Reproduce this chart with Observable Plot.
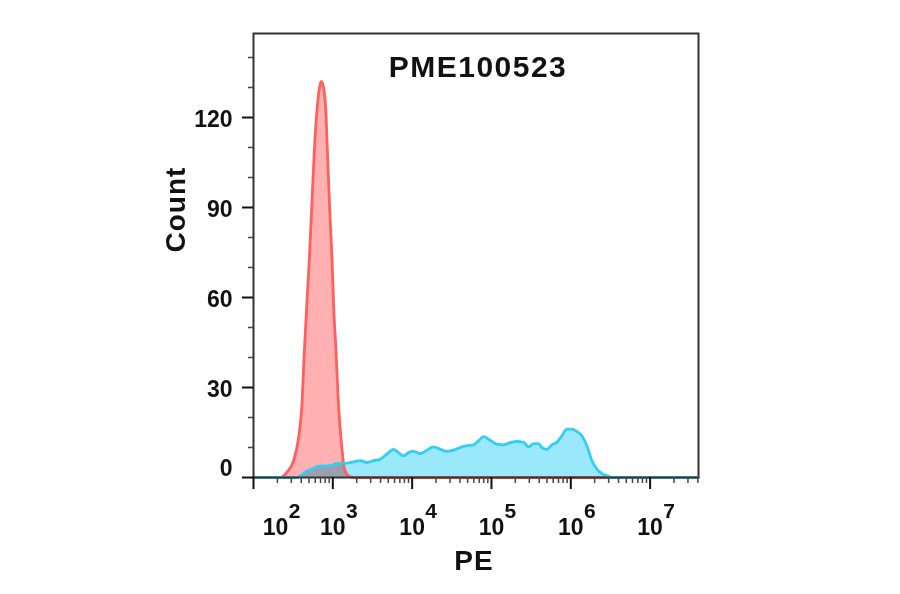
<!DOCTYPE html>
<html>
<head>
<meta charset="utf-8">
<script src="https://cdn.jsdelivr.net/npm/d3@7"></script>
<script src="https://cdn.jsdelivr.net/npm/@observablehq/plot@0.6"></script>
<style>
  html, body { margin: 0; padding: 0; background: #fff; }
  #chart { width: 900px; height: 594px; }
</style>
</head>
<body>
<div id="chart"></div>
<script>
// ---- data (x as log10 of PE intensity, y as event count) ----
const title = "PME100523";
const xLabel = "PE";
const yLabel = "Count";

const redLogPE = [2.0, 2.336, 2.420, 2.504, 2.567, 2.610, 2.639, 2.673, 2.706, 2.736, 2.765, 2.799, 2.832, 2.853,
  2.883, 2.912, 2.933, 2.958, 2.988, 3.009, 3.042, 3.072, 3.114, 3.143, 3.198, 3.261, 6.52];
const redCount = [0, 0, 1.7, 5.5, 13, 24, 41, 58, 74, 91, 108, 122, 130, 132,
  130, 122, 108, 91, 74, 58, 41, 24, 10, 3.3, 0.5, 0, 0];

const cyanLogPE = [2.0, 2.546, 2.609, 2.673, 2.736, 2.799, 2.862, 2.925, 2.988, 3.051, 3.114, 3.177, 3.261, 3.345,
  3.429, 3.513, 3.597, 3.681, 3.765, 3.828, 3.892, 3.955, 4.018, 4.102, 4.186, 4.270, 4.354, 4.438,
  4.522, 4.606, 4.690, 4.774, 4.837, 4.900, 4.984, 5.069, 5.153, 5.237, 5.321, 5.405, 5.468, 5.531,
  5.594, 5.636, 5.699, 5.762, 5.825, 5.888, 5.951, 6.014, 6.077, 6.140, 6.203, 6.266, 6.330, 6.393,
  6.456, 6.519, 7.61];
const cyanCount = [0, 0, 0.9, 2.2, 2.8, 3.6, 3.9, 3.9, 4.1, 4.7, 4.7, 4.8, 5.2, 5.6,
  5.0, 5.6, 6.1, 7.8, 9.4, 8.3, 7.2, 8.3, 8.7, 8.0, 9.1, 10.2, 9.4, 8.7,
  9.1, 10.0, 10.6, 10.9, 12.2, 13.6, 12.4, 11.1, 10.9, 11.6, 12.0, 11.7, 10.2, 11.3,
  11.3, 10.0, 9.4, 10.9, 11.7, 13.9, 16.1, 16.1, 15.3, 13.9, 10.6, 5.6, 2.8, 1.3,
  0.6, 0, 0];

const yMajorTicks = [0, 30, 60, 90, 120];
const yMinorTicks = [10, 20, 40, 50, 70, 80, 100, 110, 130, 140];
const xDecadeExps = [2, 3, 4, 5, 6, 7];
const xMinorMultipliers = [2, 3, 4, 5, 6, 7, 8, 9];

// ---- build tables ----
const red = redLogPE.map((e, i) => ({x: 10 ** e, y: redCount[i]}));
const cyan = cyanLogPE.map((e, i) => ({x: 10 ** e, y: cyanCount[i]}));
const xMajor = xDecadeExps.map(e => ({v: 10 ** e, e: String(e)}));
const xMinor = [];
for (const e of xDecadeExps) for (const m of xMinorMultipliers) {
  const v = m * 10 ** e;
  if (v < 10 ** 7.61) xMinor.push(v);
}
const xLabelsFirst = xMajor.slice(0, 1);
const xLabelsRest = xMajor.slice(1);
const yLabelZero = yMajorTicks.filter(d => d === 0);
const yLabelRest = yMajorTicks.filter(d => d !== 0);

const font = "'Liberation Sans', Arial, Helvetica, sans-serif";
const ink = "#111";

const chart = Plot.plot({
  width: 900,
  height: 594,
  marginLeft: 253,
  marginRight: 202,
  marginTop: 33,
  marginBottom: 117,
  style: {fontFamily: font, background: "#fff", overflow: "visible"},
  x: {type: "log", domain: [100, 10 ** 7.61], axis: null},
  y: {domain: [0, 148], axis: null},
  marks: [
    // histograms
    Plot.areaY(red, {x: "x", y: "y", fill: "#ffb0b0", curve: "monotone-x"}),
    Plot.areaY(cyan, {x: "x", y: "y", fill: "#9ae8fc", curve: "monotone-x", mixBlendMode: "multiply"}),
    Plot.lineY(red, {x: "x", y: "y", stroke: "#ff5f5f", strokeWidth: 2.8, curve: "monotone-x"}),
    Plot.lineY(cyan, {x: "x", y: "y", stroke: "#33cdf5", strokeWidth: 2.8, curve: "monotone-x"}),
    // frame
    Plot.frame({stroke: "#333", strokeWidth: 2}),
    // y ticks
    Plot.axisY({ticks: yMajorTicks, tickSize: 11, tickFormat: () => "", label: null, stroke: ink, strokeWidth: 2}),
    Plot.axisY({ticks: yMinorTicks, tickSize: 5, tickFormat: () => "", label: null, stroke: "#444", strokeWidth: 1.5}),
    // y tick labels
    Plot.text(yLabelRest, {y: d => d, frameAnchor: "left", lineAnchor: "middle", dx: -21, dy: 2, textAnchor: "end",
      text: d => String(d), fontSize: 23, fontWeight: "bold", fill: ink}),
    Plot.text(yLabelZero, {y: d => d, frameAnchor: "left", lineAnchor: "middle", dx: -21, dy: -9, textAnchor: "end",
      text: d => String(d), fontSize: 23, fontWeight: "bold", fill: ink}),
    // x ticks
    Plot.axisX({ticks: xMajor.map(d => d.v), tickSize: 12, tickFormat: () => "", label: null, stroke: ink, strokeWidth: 2}),
    Plot.axisX({ticks: xMinor, tickSize: 6, tickFormat: () => "", label: null, stroke: "#444", strokeWidth: 1.5}),
    // x tick labels: base "10" and exponent
    Plot.text(xLabelsRest, {x: "v", frameAnchor: "bottom", lineAnchor: "middle", dy: 50, text: () => "10",
      fontSize: 23, fontWeight: "bold", fill: ink}),
    Plot.text(xLabelsRest, {x: "v", frameAnchor: "bottom", lineAnchor: "middle", dx: 19, dy: 34, text: "e",
      fontSize: 21, fontWeight: "bold", fill: ink}),
    Plot.text(xLabelsFirst, {x: "v", frameAnchor: "bottom", lineAnchor: "middle", dx: 22, dy: 50, text: () => "10",
      fontSize: 23, fontWeight: "bold", fill: ink}),
    Plot.text(xLabelsFirst, {x: "v", frameAnchor: "bottom", lineAnchor: "middle", dx: 41, dy: 34, text: "e",
      fontSize: 21, fontWeight: "bold", fill: ink}),
    // title and axis labels
    Plot.text([title], {frameAnchor: "top", lineAnchor: "middle", dx: 2, dy: 34, text: d => d, fontSize: 30,
      fontWeight: "bold", fill: ink}),
    Plot.text([yLabel], {frameAnchor: "left", lineAnchor: "middle", dx: -77, dy: -3, rotate: -90, text: d => d,
      fontSize: 28, fontWeight: "bold", fill: ink}),
    Plot.text([xLabel], {frameAnchor: "bottom", lineAnchor: "middle", dx: -2, dy: 84, text: d => d, fontSize: 28,
      fontWeight: "bold", fill: ink})
  ]
});

// letter spacing for the wide bold labels
d3.select(chart).selectAll("text").each(function () {
  const t = this.textContent;
  if (t === title) this.setAttribute("letter-spacing", "1.5");
  if (t === yLabel || t === xLabel) this.setAttribute("letter-spacing", "1");
});

document.getElementById("chart").appendChild(chart);
</script>
</body>
</html>
